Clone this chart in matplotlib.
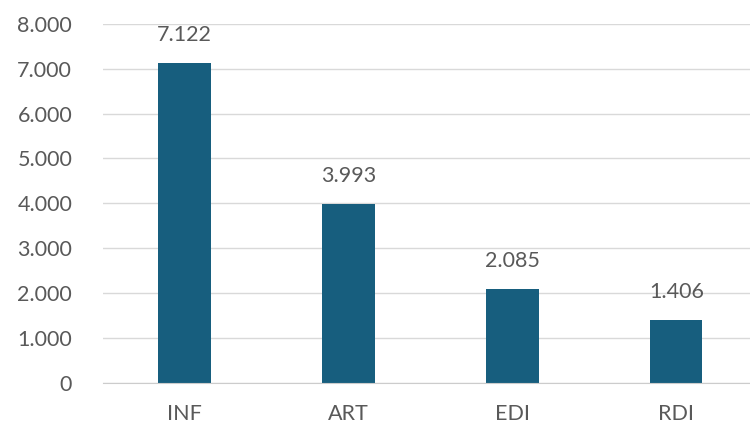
import matplotlib.pyplot as plt
from matplotlib.ticker import FuncFormatter

categories = ["INF", "ART", "EDI", "RDI"]
values = [7122, 3993, 2085, 1406]
yticks = [0, 1000, 2000, 3000, 4000, 5000, 6000, 7000, 8000]

BAR_COLOR = "#175e7e"
TEXT_COLOR = "#595959"

plt.rcParams['font.family'] = ['Lato', 'DejaVu Sans']


def dotted(v, pos=None):
    return f"{int(v):,}".replace(",", ".")


fig = plt.figure(figsize=(7.5, 4.25), dpi=100)
ax = fig.add_axes([0.137, 0.099, 0.863, 0.845])

x = range(len(categories))
bars = ax.bar(x, values, width=0.32, color=BAR_COLOR, zorder=3)

for xi, v in zip(x, values):
    ax.text(xi, v + 400, dotted(v), ha="center", va="bottom",
            fontsize=15.5, color=TEXT_COLOR)

ax.set_ylim(0, 8000)
ax.set_xlim(-0.5, 3.45)
ax.set_yticks(yticks)
ax.yaxis.set_major_formatter(FuncFormatter(dotted))
ax.set_xticks(list(x))
ax.set_xticklabels(categories)

ax.grid(axis="y", color="#d9d9d9", lw=1, zorder=0)
ax.tick_params(axis="both", length=0, labelsize=15.5, colors=TEXT_COLOR)
ax.tick_params(axis="x", pad=15)
ax.tick_params(axis="y", pad=22)
for s in ["top", "right", "left"]:
    ax.spines[s].set_visible(False)
ax.spines["bottom"].set_color("#cccccc")
ax.spines["bottom"].set_zorder(4)

fig.savefig("out.png", dpi=100)
